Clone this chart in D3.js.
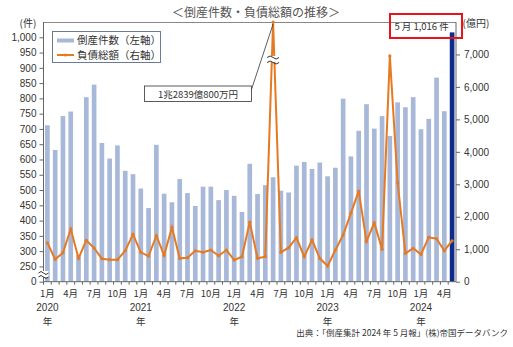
<!DOCTYPE html>
<html><head><meta charset="utf-8">
<script src="https://cdn.jsdelivr.net/npm/d3@7"></script>
<style>
body{margin:0;background:#fff;}
svg{font-family:"Noto Sans CJK JP","Noto Sans",sans-serif;}
</style></head>
<body><svg id="c" width="513" height="347"></svg>
<script>
const months = ["2020/1","2020/2","2020/3","2020/4","2020/5","2020/6","2020/7","2020/8","2020/9","2020/10","2020/11","2020/12",
"2021/1","2021/2","2021/3","2021/4","2021/5","2021/6","2021/7","2021/8","2021/9","2021/10","2021/11","2021/12",
"2022/1","2022/2","2022/3","2022/4","2022/5","2022/6","2022/7","2022/8","2022/9","2022/10","2022/11","2022/12",
"2023/1","2023/2","2023/3","2023/4","2023/5","2023/6","2023/7","2023/8","2023/9","2023/10","2023/11","2023/12",
"2024/1","2024/2","2024/3","2024/4","2024/5"];
const counts = [712,631,742,757,288,804,845,654,603,646,563,552,
505,441,648,488,460,536,490,448,511,511,467,500,
481,428,586,487,516,542,498,492,580,592,569,590,
545,573,799,610,694,781,701,742,677,787,771,804,
699,733,868,758,1016];
const debt = [1200,689,893,1622,720,1274,1037,708,677,677,954,1459,
905,790,1416,812,1674,720,739,954,905,976,800,976,
668,770,1835,720,770,12839,905,1047,1354,770,1283,720,
483,976,1437,2115,2792,1243,1816,997,6956,3047,874,1028,
843,1367,1323,954,1262];
const monthTickLabels = ["1月","4月","7月","10月"];
const yearLabels = ["2020","2021","2022","2023","2024"];
const leftTicks = [200,250,300,350,400,450,500,550,600,650,700,750,800,850,900,950,1000];
const rightTicks = [0,1000,2000,3000,4000,5000,6000,7000];

const svg = d3.select("#c");
const L = 43.5, R = 456, T = 22, B = 281.7;
const x = d3.scaleBand().domain(months).range([L, R]).paddingInner(0.4).paddingOuter(0.2);
const yL = d3.scaleLinear().domain([200,1050]).range([B, T]);
const yR = d3.scaleLinear().domain([0,8000]).range([B, T]).clamp(true);
const txt = "#333";
const numFont = "Liberation Sans, Arial, sans-serif";

// title
svg.append("text").attr("x",256).attr("y",17).attr("text-anchor","middle")
  .attr("font-size",12).attr("fill","#555").text("＜倒産件数・負債総額の推移＞");

// bars
svg.append("g").selectAll("rect").data(months).join("rect")
  .attr("x", d=>x(d)).attr("width", x.bandwidth())
  .attr("y", (d,i)=>yL(counts[i])).attr("height",(d,i)=>B - yL(counts[i]))
  .attr("fill",(d,i)=> i===months.length-1 ? "#0c2b8c" : "#a8b8d8");

// frame top
svg.append("line").attr("x1",L).attr("x2",R).attr("y1",T+0.5).attr("y2",T+0.5).attr("stroke","#888").attr("stroke-width",1);

// left axis
const gl = svg.append("g").attr("transform",`translate(${L},0)`)
  .call(d3.axisLeft(yL).tickValues(leftTicks).tickSize(4).tickPadding(3)
    .tickFormat(d=> d===200 ? "0" : d3.format(",")(d)));
gl.select(".domain").attr("stroke","#666").attr("d",`M0,${T}V${B}`);
gl.selectAll(".tick line").attr("stroke","#666");
gl.selectAll(".tick text").attr("font-size",10).attr("fill",txt).attr("font-family",numFont);

// right axis
const gr = svg.append("g").attr("transform",`translate(${R},0)`)
  .call(d3.axisRight(yR).tickValues(rightTicks).tickSize(4).tickPadding(4).tickFormat(d3.format(",")));
gr.select(".domain").attr("stroke","#666").attr("d",`M0,${T}V${B}`);
gr.selectAll(".tick line").attr("stroke","#666");
gr.selectAll(".tick text").attr("font-size",10).attr("fill",txt).attr("font-family",numFont);

// bottom axis
svg.append("line").attr("x1",L).attr("x2",R).attr("y1",B).attr("y2",B).attr("stroke","#666");
const step = x.step();
svg.append("g").selectAll("line").data(months).join("line")
  .attr("x1",d=>x(d)-step*0.2).attr("x2",d=>x(d)-step*0.2)
  .attr("y1",B).attr("y2",B+3).attr("stroke","#666");

// x labels
months.forEach((m,i)=>{
  const mo = +m.split("/")[1];
  const xc = x(m)+x.bandwidth()/2;
  if ((mo-1)%3===0){
    svg.append("text").attr("x",xc).attr("y",297).attr("text-anchor","middle")
      .attr("font-size",9.5).attr("fill",txt).text(monthTickLabels[(mo-1)/3]);
  }
  if (mo===1){
    const yr = m.split("/")[0];
    svg.append("text").attr("x",xc).attr("y",310.5).attr("text-anchor","middle")
      .attr("font-size",10).attr("fill",txt).attr("font-family",numFont).text(yearLabels[yearLabels.indexOf(yr)]);
    svg.append("text").attr("x",xc).attr("y",324.5).attr("text-anchor","middle")
      .attr("font-size",9.5).attr("fill",txt).text("年");
  }
});

// line
const cx = (d,i)=> x(months[i]) + x.bandwidth()/2;
svg.append("path").datum(debt)
  .attr("d", d3.line().x(cx).y(d=>yR(d)))
  .attr("fill","none").attr("stroke","#e57a22").attr("stroke-width",2);
svg.append("g").selectAll("circle").data(debt).join("circle")
  .attr("cx",cx).attr("cy",d=>yR(d)).attr("r",1.6).attr("fill","#e57a22");

// break on peak line
const pk = debt.indexOf(d3.max(debt));
const px = cx(0,pk), py = 59;
svg.append("rect").attr("x",px-6).attr("y",py-3).attr("width",12).attr("height",6).attr("fill","#fff");
[py-2.5, py+2.5].forEach(yy=>{
  svg.append("path").attr("d",`M${px-6},${yy+1} q3,-3 6,0 t6,0`).attr("fill","none").attr("stroke","#333").attr("stroke-width",1);
});
// break on left axis
{
  const by = 274;
  svg.append("rect").attr("x",L-5).attr("y",by-3).attr("width",10).attr("height",6).attr("fill","#fff");
  [by-2, by+2].forEach(yy=>{
    svg.append("path").attr("d",`M${L-5},${yy+1} q2.5,-3 5,0 t5,0`).attr("fill","none").attr("stroke","#333").attr("stroke-width",1);
  });
}

// axis unit labels
svg.append("text").attr("x",28).attr("y",27).attr("text-anchor","middle").attr("font-size",10).attr("fill",txt).text("(件)");
svg.append("text").attr("x",476).attr("y",27).attr("text-anchor","middle").attr("font-size",10).attr("fill",txt).text("(億円)");

// legend
const lg = svg.append("g");
lg.append("rect").attr("x",52.5).attr("y",31.5).attr("width",108).attr("height",31).attr("fill","#fff").attr("stroke","#6b7a99");
lg.append("rect").attr("x",57).attr("y",38.5).attr("width",17).attr("height",4).attr("fill","#a8b8d8");
lg.append("text").attr("x",77).attr("y",44).attr("font-size",10.5).attr("fill",txt).text("倒産件数（左軸）");
lg.append("line").attr("x1",57).attr("x2",74).attr("y1",55).attr("y2",55).attr("stroke","#e57a22").attr("stroke-width",2);
lg.append("circle").attr("cx",65.5).attr("cy",55).attr("r",1.6).attr("fill","#e57a22");
lg.append("text").attr("x",77).attr("y",59).attr("font-size",10.5).attr("fill",txt).text("負債総額（右軸）");

// annotation for peak
svg.append("line").attr("x1",249).attr("y1",97).attr("x2",px).attr("y2",yR(debt[pk])+2).attr("stroke","#333").attr("stroke-width",0.8);
svg.append("rect").attr("x",144.5).attr("y",86).attr("width",107).attr("height",15.5).attr("fill","#fff").attr("stroke","#333").attr("stroke-width",0.8);
svg.append("text").attr("x",198).attr("y",97.5).attr("text-anchor","middle").attr("font-size",9.5).attr("fill",txt).text("1兆2839億800万円");

// latest month callout
const last = months.length-1;
svg.append("text").attr("x",x(months[last])-1).attr("y",30).attr("text-anchor","end").attr("font-size",9.5).attr("fill",txt)
  .text(`5 月 ${d3.format(",")(counts[last])} 件`);
svg.append("rect").attr("x",390).attr("y",14).attr("width",72).attr("height",24).attr("fill","none").attr("stroke","#e8141c").attr("stroke-width",2);

// source
svg.append("text").attr("x",508).attr("y",336).attr("text-anchor","end").attr("font-size",8.5).attr("fill",txt)
  .text("出典：「倒産集計 2024 年 5 月報」(株)帝国データバンク");
</script></body></html>
